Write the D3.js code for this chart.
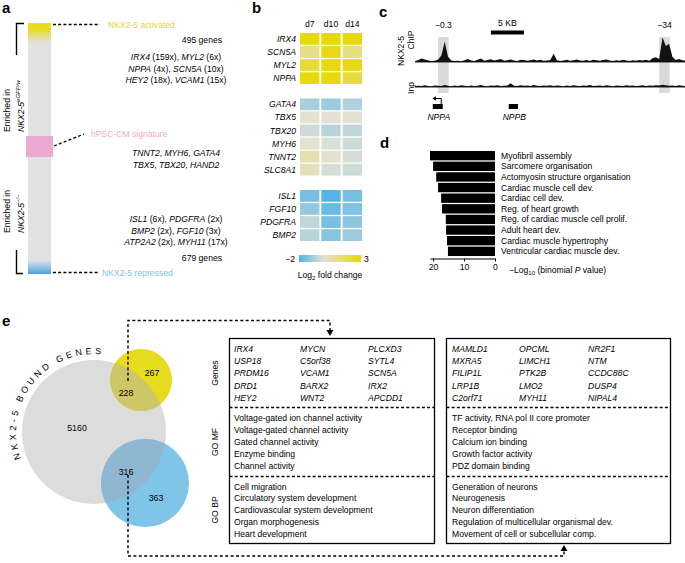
<!DOCTYPE html>
<html><head><meta charset="utf-8">
<script src="https://cdn.jsdelivr.net/npm/d3@7"></script>
<style>
body{margin:0;background:#fff;}
svg{font-family:"Liberation Sans",Arial,Helvetica,sans-serif;}
</style></head><body>
<svg id="c" width="685" height="563"></svg>
<script>
// ---------------- DATA ----------------
const aUpGenes = [["IRX4","159x"],["MYL2","6x"],["NPPA","4x"],["SCN5A","10x"],["HEY2","18x"],["VCAM1","15x"]];
const aSignatureGenes = ["TNNT2","MYH6","GATA4","TBX5","TBX20","HAND2"];
const aDownGenes = [["ISL1","6x"],["PDGFRA","2x"],["BMP2","2x"],["FGF10","3x"],["ATP2A2","2x"],["MYH11","17x"]];
const aGeneCounts = [495, 679];
const aTags = ["NKX2-5 activated","hPSC-CM signature","NKX2-5 repressed"];

const hmDays = ["d7","d10","d14"];
const hmGenes = ["IRX4","SCN5A","MYL2","NPPA","GATA4","TBX5","TBX20","MYH6","TNNT2","SLC8A1","ISL1","FGF10","PDGFRA","BMP2"];
const hmGroup = [0,0,0,0,1,1,1,1,1,1,2,2,2,2];
const hmValues = [
  [3.0,3.0,3.0],[1.2,2.9,1.3],[2.3,3.0,2.9],[3.0,3.0,2.2],
  [-0.8,-1.0,-0.7],[0.1,0.0,0.1],[-0.3,-0.6,-0.5],[0.1,-0.1,-0.3],[0.6,0.1,-0.2],[0.4,-0.2,-0.3],
  [-1.5,-2.0,-1.5],[-1.1,-1.7,-1.4],[-0.5,-1.5,-1.2],[-0.6,-1.3,-1.0]
];
const hmColorTicks = [-2, 3];

const chipBinKb = 0.5;
const chipSignal = [0.3,0.8,1.3,1.0,0.6,0.4,0.5,1.0,2.5,7.8,2.0,0.6,0.4,0.5,0.3,0.7,1.2,0.6,0.4,0.9,1.3,0.5,0.8,1.1,0.6,0.9,1.2,0.5,0.7,1.0,0.6,0.4,0.9,0.8,0.5,0.7,1.0,0.6,0.9,0.5,0.6,0.8,3.2,0.7,0.4,0.6,0.9,0.5,0.7,1.0,0.6,0.5,0.8,0.4,0.9,0.7,0.5,0.8,1.0,0.6,0.4,0.7,0.5,0.9,0.6,0.4,0.7,0.5,0.8,0.6,0.9,0.5,1.4,1.8,1.2,9.5,6.2,7.0,2.0,0.8,1.2,0.7,0.5];
const inpSignal  = [0.3,0.5,0.4,0.7,0.4,0.3,0.6,0.5,0.4,0.8,0.5,0.3,0.6,0.4,0.7,0.5,0.3,0.6,0.4,0.5,0.8,0.4,0.3,0.6,0.5,0.7,0.4,0.5,0.6,1.4,0.5,0.4,0.7,0.5,0.6,0.4,0.8,0.5,0.4,0.6,0.5,0.7,0.4,0.6,0.5,0.3,0.6,0.4,0.7,0.5,0.4,0.6,0.5,0.8,0.4,0.5,0.6,0.4,0.7,0.5,0.3,0.6,0.5,0.4,0.7,0.5,0.6,0.4,0.5,0.7,0.4,0.6,0.5,0.7,0.6,0.9,0.7,0.5,0.6,0.4,0.7,0.5,0.4];
const chipPeakKb = [4.3, 37.8];
const chipPeakLabels = ["\u22120.3", "\u221234"];
const chipGeneNames = ["NPPA","NPPB"];
const chipGeneStartKb = [2.7, 14.2];
const chipGeneEndKb = [4.2, 15.6];
const chipScaleBarKb = 5;

const goTerms = ["Myofibril assembly","Sarcomere organisation","Actomyosin structure organisation","Cardiac muscle cell dev.","Cardiac cell dev.","Reg. of heart growth","Reg. of cardiac muscle cell prolif.","Adult heart dev.","Cardiac muscle hypertrophy","Ventricular cardiac muscle dev."];
const goScores = [21.0, 20.0, 19.0, 18.4, 17.4, 17.1, 15.9, 15.8, 15.5, 15.2];
const goTicks = [20, 10, 0];

const vennCounts = [5160, 228, 267, 316, 363];
const vennTitle = "NKX2-5 BOUND GENES";

const t1Genes = ["IRX4","USP18","PRDM16","DRD1","HEY2","MYCN","C5orf38","VCAM1","BARX2","WNT2","PLCXD3","SYTL4","SCN5A","IRX2","APCDD1"];
const t1MF = ["Voltage-gated ion channel activity","Voltage-gated channel activity","Gated channel activity","Enzyme binding","Channel activity"];
const t1BP = ["Cell migration","Circulatory system development","Cardiovascular system development","Organ morphogenesis","Heart development"];
const t2Genes = ["MAMLD1","MXRA5","FILIP1L","LRP1B","C2orf71","OPCML","LIMCH1","PTK2B","LMO2","MYH11","NR2F1","NTM","CCDC88C","DUSP4","NIPAL4"];
const t2MF = ["TF activity, RNA pol II core promoter","Receptor binding","Calcium ion binding","Growth factor activity","PDZ domain binding"];
const t2BP = ["Generation of neurons","Neurogenesis","Neuron differentiation","Regulation of multicellular organismal dev.","Movement of cell or subcellular comp."];
const tSections = ["Genes","GO MF","GO BP"];

// ---------------- DRAW ----------------
const svg = d3.select("#c");
const defs = svg.append("defs");
const FS = 8.6;

function panelLabel(x,y,t){ svg.append("text").attr("x",x).attr("y",y).attr("font-weight","bold").attr("font-size",15).text(t); }
panelLabel(2,13,"a"); panelLabel(252,13,"b"); panelLabel(379,17,"c"); panelLabel(380,148,"d"); panelLabel(2,326,"e");

// ---- Panel a ----
const aBar = {x:28, w:23, y0:23, y1:274};
const g1 = defs.append("linearGradient").attr("id","aGrad").attr("x1",0).attr("x2",0).attr("y1",0).attr("y2",1);
[[0,"#e9dc10"],[0.03,"#e8db2c"],[0.065,"#e3e0b4"],[0.085,"#e2e2e2"],[0.945,"#e2e2e2"],[0.965,"#a9cde9"],[1,"#4f9fd8"]]
  .forEach(s=>g1.append("stop").attr("offset",s[0]).attr("stop-color",s[1]));
svg.append("rect").attr("x",aBar.x).attr("y",aBar.y0).attr("width",aBar.w).attr("height",aBar.y1-aBar.y0).attr("fill","url(#aGrad)");
svg.append("rect").attr("x",26).attr("y",136).attr("width",27).attr("height",21).attr("fill","#eba9cf");

const dash = "3,2.2";
svg.append("path").attr("d","M53,24.5H100").attr("stroke","#000").attr("stroke-width",1.3).attr("stroke-dasharray",dash);
svg.append("path").attr("d","M54,146L84,134").attr("stroke","#000").attr("stroke-width",1.3).attr("stroke-dasharray",dash);
svg.append("path").attr("d","M53,272.5H98").attr("stroke","#000").attr("stroke-width",1.3).attr("stroke-dasharray",dash);
svg.append("text").attr("x",108).attr("y",27.5).attr("font-size",FS).attr("fill","#e2d62a").text(aTags[0]);
svg.append("text").attr("x",91).attr("y",136.5).attr("font-size",FS).attr("fill","#f0a8d0").text(aTags[1]);
svg.append("text").attr("x",102).attr("y",275.5).attr("font-size",FS).attr("fill","#7cc3ea").text(aTags[2]);

svg.append("path").attr("d","M24,23.5H16.5V55").attr("fill","none").attr("stroke","#000").attr("stroke-width",1.4);
svg.append("path").attr("d","M16.5,250V273.5H23").attr("fill","none").attr("stroke","#000").attr("stroke-width",1.4);

function vlabel(x,y,sup){
  const g = svg.append("g").attr("transform",`translate(${x},${y}) rotate(-90)`).attr("font-size",FS);
  g.append("text").attr("x",0).attr("y",-4).text("Enriched in");
  const t = g.append("text").attr("x",0).attr("y",9.5);
  t.append("tspan").attr("font-style","italic").text("NKX2-5");
  t.append("tspan").attr("font-style","italic").attr("font-size",6).attr("dy",-3.5).text(sup);
}
vlabel(14,132,"eGFP/w");
vlabel(14,233,"\u2212/\u2212");

function richLine(x,y,parts,anchor){
  const t = svg.append("text").attr("x",x).attr("y",y).attr("font-size",FS).attr("text-anchor",anchor||"middle");
  parts.forEach(p=>t.append("tspan").attr("font-style",p[1]?"italic":"normal").text(p[0]));
}
function foldParts(list){
  const lines=[];
  for(let i=0;i<list.length;i+=2){
    lines.push([[list[i][0],1],[" ("+list[i][1]+"), ",0],[list[i+1][0],1],[" ("+list[i+1][1]+")",0]]);
  }
  return lines;
}
svg.append("text").attr("x",222).attr("y",43).attr("font-size",FS).attr("text-anchor","end").text(aGeneCounts[0]+" genes");
foldParts(aUpGenes).forEach((l,i)=>richLine(176,60+i*11.6,l));
for(let i=0;i<2;i++){
  const s=aSignatureGenes.slice(i*3,i*3+3);
  richLine(176,156+i*11.6,[[s[0],1],[", ",0],[s[1],1],[", ",0],[s[2],1]]);
}
foldParts(aDownGenes).forEach((l,i)=>richLine(176,222+i*11.6,l));
svg.append("text").attr("x",222).attr("y",261).attr("font-size",FS).attr("text-anchor","end").text(aGeneCounts[1]+" genes");

// ---- Panel b ----
const hmColor = d3.scaleLinear().domain([-2,0,3]).range(["#55b4e6","#e3e1d6","#e7d90c"]).clamp(true);
const rowKeys=[];
hmGenes.forEach((g,i)=>{ if(i>0 && hmGroup[i]!==hmGroup[i-1]) rowKeys.push("gap"+i); rowKeys.push(g); });
const yB = d3.scaleBand().domain(rowKeys).range([33,33+rowKeys.length*13]).paddingInner(0.1);
const xB = d3.scaleBand().domain(hmDays).range([300,362]).paddingInner(0.09);
hmGenes.forEach((g,i)=>{
  hmDays.forEach((d,j)=>{
    svg.append("rect").attr("x",xB(d)).attr("y",yB(g)).attr("width",xB.bandwidth()).attr("height",yB.bandwidth()).attr("fill",hmColor(hmValues[i][j]));
  });
  svg.append("text").attr("x",296).attr("y",yB(g)+yB.bandwidth()/2+3.1).attr("text-anchor","end").attr("font-size",FS).attr("font-style","italic").text(g);
});
hmDays.forEach(d=>svg.append("text").attr("x",xB(d)+xB.bandwidth()/2).attr("y",27).attr("text-anchor","middle").attr("font-size",FS).text(d));
const g2 = defs.append("linearGradient").attr("id","cbGrad");
d3.range(-2,3.01,0.5).forEach(v=>g2.append("stop").attr("offset",(v+2)/5).attr("stop-color",hmColor(v)));
svg.append("rect").attr("x",299).attr("y",255).attr("width",62).attr("height",7).attr("fill","url(#cbGrad)");
svg.append("text").attr("x",295).attr("y",261.5).attr("text-anchor","end").attr("font-size",FS).text("\u2212"+Math.abs(hmColorTicks[0]));
svg.append("text").attr("x",364).attr("y",261.5).attr("font-size",FS).text(hmColorTicks[1]);
{
  const t = svg.append("text").attr("x",330).attr("y",278).attr("text-anchor","middle").attr("font-size",FS);
  t.append("tspan").text("Log");
  t.append("tspan").attr("font-size",6).attr("dy",2).text("2");
  t.append("tspan").attr("dy",-2).text(" fold change");
}

// ---- Panel c ----
const xC = d3.scaleLinear().domain([0,41]).range([415,685.6]);
const yChip = d3.scaleLinear().domain([0,10]).range([62,36]);
const yInp = d3.scaleLinear().domain([0,10]).range([87,61]);
chipPeakKb.forEach((k,i)=>{
  svg.append("rect").attr("x",xC(k-0.8)).attr("y",37).attr("width",xC(k+0.8)-xC(k-0.8)).attr("height",56).attr("fill","#d9d9d9");
  svg.append("text").attr("x",xC(k)).attr("y",28).attr("text-anchor","middle").attr("font-size",FS).text(chipPeakLabels[i]);
});
svg.append("rect").attr("x",xC(11.5)).attr("y",30.5).attr("width",xC(11.5+chipScaleBarKb)-xC(11.5)).attr("height",4).attr("fill","#000");
svg.append("text").attr("x",xC(14)).attr("y",26).attr("text-anchor","middle").attr("font-size",FS).text(chipScaleBarKb+" KB");
function track(data,ys){
  const area = d3.area().x((d,i)=>xC(i*chipBinKb)).y0(ys(0)).y1(d=>ys(d));
  svg.append("path").attr("d",area(data)).attr("fill","#111");
  svg.append("line").attr("x1",xC(0)).attr("x2",685).attr("y1",ys(0)).attr("y2",ys(0)).attr("stroke","#111").attr("stroke-width",0.9);
}
track(chipSignal,yChip);
track(inpSignal,yInp);
function rotText(x,y,t){ svg.append("text").attr("transform",`translate(${x},${y}) rotate(-90)`).attr("text-anchor","middle").attr("font-size",FS).text(t); }
rotText(404,51,"NKX2-5"); rotText(414,40,"ChIP"); rotText(414,88,"Inp");
chipGeneNames.forEach((n,i)=>{
  const x0=xC(chipGeneStartKb[i]), x1=xC(chipGeneEndKb[i]);
  svg.append("rect").attr("x",x0).attr("y",104).attr("width",x1-x0).attr("height",5).attr("fill","#000");
  svg.append("text").attr("x",(x0+x1)/2+1).attr("y",120).attr("text-anchor","middle").attr("font-size",FS).attr("font-style","italic").text(n);
});
{
  const x1 = xC(chipGeneEndKb[0])-1.5;
  svg.append("path").attr("d",`M${x1},104V98.5H${xC(chipGeneStartKb[0])+2}`).attr("fill","none").attr("stroke","#000").attr("stroke-width",1);
  const ax = xC(chipGeneStartKb[0])-0.5;
  svg.append("path").attr("d",`M${ax},98.5L${ax+3.5},96.3L${ax+3.5},100.7Z`).attr("fill","#000");
}

// ---- Panel d ----
const xD = d3.scaleLinear().domain([0,21]).range([495,430]);
const yD = d3.scaleBand().domain(goTerms).range([151,256]).paddingInner(0.12);
goTerms.forEach((t,i)=>{
  svg.append("rect").attr("x",xD(goScores[i])).attr("y",yD(t)).attr("width",xD(0)-xD(goScores[i])).attr("height",yD.bandwidth()).attr("fill","#000");
  svg.append("text").attr("x",501).attr("y",yD(t)+yD.bandwidth()/2+3).attr("font-size",FS).text(t);
});
const axD = svg.append("g").attr("transform","translate(0,258.5)")
  .call(d3.axisBottom(xD).tickValues(goTicks).tickSize(3).tickSizeOuter(0).tickPadding(2));
axD.selectAll("text").attr("font-size",FS).attr("font-family","inherit");
axD.selectAll("path,line").attr("stroke","#000");
{
  const t = svg.append("text").attr("x",509).attr("y",272.5).attr("font-size",FS);
  t.append("tspan").text("\u2212Log");
  t.append("tspan").attr("font-size",6).attr("dy",2).text("10");
  t.append("tspan").attr("dy",-2).text(" (binomial ");
  t.append("tspan").attr("font-style","italic").text("P");
  t.append("tspan").text(" value)");
}

// ---- Panel e: Venn ----
const vGray = {cx:94, cy:432, r:72}, vYel = {cx:141, cy:380, r:31}, vBlue = {cx:145, cy:483, r:44};
defs.append("clipPath").attr("id","grayClip").append("circle").attr("cx",vGray.cx).attr("cy",vGray.cy).attr("r",vGray.r);
svg.append("circle").attr("cx",vGray.cx).attr("cy",vGray.cy).attr("r",vGray.r).attr("fill","#dcdcdc");
svg.append("circle").attr("cx",vYel.cx).attr("cy",vYel.cy).attr("r",vYel.r).attr("fill","#e6db1c");
svg.append("circle").attr("cx",vBlue.cx).attr("cy",vBlue.cy).attr("r",vBlue.r).attr("fill","#7ec5e8");
svg.append("circle").attr("cx",vYel.cx).attr("cy",vYel.cy).attr("r",vYel.r).attr("fill","#cec768").attr("clip-path","url(#grayClip)");
svg.append("circle").attr("cx",vBlue.cx).attr("cy",vBlue.cy).attr("r",vBlue.r).attr("fill","#8fb7d2").attr("clip-path","url(#grayClip)");
const vennPos = [[77,428],[126,393],[152,373],[126,472],[156,498]];
vennCounts.forEach((c,i)=>svg.append("text").attr("x",vennPos[i][0]).attr("y",vennPos[i][1]+3).attr("text-anchor","middle").attr("font-size",8.8).text(c));
{
  // letters placed individually along an arc around the grey circle
  const r=78, ls=3.3, fs=9;
  const meas = svg.append("text").attr("font-size",fs).attr("x",-100).attr("y",-100);
  let theta = 160*Math.PI/180;
  const chars = Array.from(vennTitle);
  chars.forEach(ch=>{
    let w;
    if(ch===" "){ w = 0.278*fs; }
    else { meas.text(ch); w = meas.node().getComputedTextLength(); }
    const mid = theta + (w/2)/r;
    if(ch!==" "){
      const x = vGray.cx + r*Math.cos(mid), y = vGray.cy + r*Math.sin(mid);
      svg.append("text").attr("font-size",fs).attr("text-anchor","middle")
        .attr("transform",`translate(${x},${y}) rotate(${mid*180/Math.PI+90})`).text(ch);
    }
    theta += (w+ls)/r;
  });
  meas.remove();
}

// dashed connectors
const edash="3,2.4";
svg.append("path").attr("d","M128,381V320.5H330V331").attr("fill","none").attr("stroke","#000").attr("stroke-width",1.4).attr("stroke-dasharray",edash);
svg.append("path").attr("d","M326.5,330L333.5,330L330,336Z").attr("fill","#000");
svg.append("path").attr("d","M128,475V556H564V550").attr("fill","none").attr("stroke","#000").attr("stroke-width",1.4).attr("stroke-dasharray",edash);
svg.append("path").attr("d","M560.5,551L567.5,551L564,545Z").attr("fill","#000");

// tables
function table(x0,x1,genes,mf,bp,colX){
  const top=338.5, s1=407.5, s2=476.5, bot=543.5;
  svg.append("rect").attr("x",x0).attr("y",top).attr("width",x1-x0).attr("height",bot-top).attr("fill","none").attr("stroke","#000").attr("stroke-width",1.3);
  [s1,s2].forEach(s=>svg.append("line").attr("x1",x0).attr("x2",x1).attr("y1",s).attr("y2",s).attr("stroke","#000").attr("stroke-width",1.3).attr("stroke-dasharray","3,2.2"));
  genes.forEach((g,i)=>{
    const c=Math.floor(i/5), r=i%5;
    svg.append("text").attr("x",colX[c]).attr("y",352+r*12.2).attr("font-size",FS).attr("font-style","italic").text(g);
  });
  mf.forEach((t,r)=>svg.append("text").attr("x",colX[0]).attr("y",421+r*11.9).attr("font-size",FS).text(t));
  bp.forEach((t,r)=>svg.append("text").attr("x",colX[0]).attr("y",489.5+r*11.9).attr("font-size",FS).text(t));
}
table(229.5,434.5,t1Genes,t1MF,t1BP,[234,300,368]);
table(446.5,670.5,t2Genes,t2MF,t2BP,[452,519,588]);
[[373],[442],[510]].forEach((p,i)=>rotText(218,p[0],tSections[i]));
</script>
</body></html>
